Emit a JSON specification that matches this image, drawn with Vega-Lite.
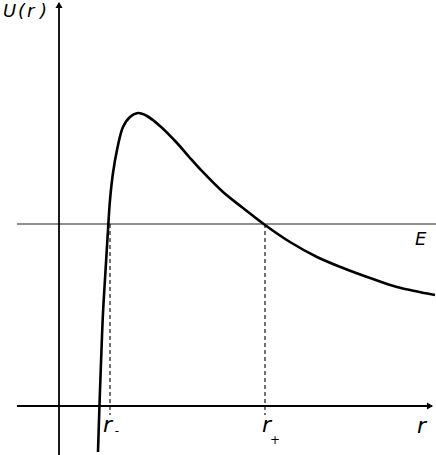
{
  "$schema": "https://vega.github.io/schema/vega-lite/v6.json",
  "width": 436,
  "height": 455,
  "padding": 0,
  "autosize": {"type": "none"},
  "background": "white",
  "config": {"view": {"stroke": null}},
  "datasets": {
    "curve": [
      {"r": 98, "U": 3}, {"r": 99, "U": 35}, {"r": 100, "U": 65}, {"r": 101, "U": 92},
      {"r": 103, "U": 142}, {"r": 106, "U": 192}, {"r": 108, "U": 225}, {"r": 110, "U": 255},
      {"r": 113, "U": 282}, {"r": 117, "U": 305}, {"r": 123, "U": 328}, {"r": 130, "U": 338},
      {"r": 138, "U": 342}, {"r": 147, "U": 339}, {"r": 160, "U": 329}, {"r": 177, "U": 312},
      {"r": 190, "U": 297}, {"r": 200, "U": 286}, {"r": 223, "U": 263}, {"r": 243, "U": 247},
      {"r": 265, "U": 230}, {"r": 290, "U": 213}, {"r": 317, "U": 198}, {"r": 343, "U": 187},
      {"r": 370, "U": 177}, {"r": 397, "U": 168}, {"r": 435, "U": 160}
    ],
    "axes": [
      {"x": 59, "y": 0, "x2": 59, "y2": 452},
      {"x": 17, "y": 49, "x2": 432, "y2": 49}
    ],
    "energy": [{"x": 17, "y": 231, "x2": 436, "y2": 231}],
    "turning": [
      {"x": 110, "y": 231, "x2": 110, "y2": 40},
      {"x": 265, "y": 231, "x2": 265, "y2": 40}
    ],
    "arrowUp": [{"x": 59, "y": 450}],
    "arrowRight": [{"x": 430, "y": 49}],
    "bigLabels": [
      {"t": "r", "x": 103, "y": 23},
      {"t": "r", "x": 262, "y": 23},
      {"t": "r", "x": 417, "y": 22}
    ],
    "subs": [
      {"t": "-", "x": 117, "y": 20},
      {"t": "+", "x": 275, "y": 11}
    ],
    "ulabel": [
      {"t": "U", "x": 3, "y": 438},
      {"t": "(", "x": 18, "y": 438},
      {"t": "r", "x": 27, "y": 438},
      {"t": ")", "x": 40, "y": 438}
    ],
    "elabel": [{"t": "E", "x": 415, "y": 210}]
  },
  "layer": [
    {
      "data": {"name": "energy"},
      "mark": {"type": "rule", "color": "#6a6a6a", "strokeWidth": 1.6},
      "encoding": {
        "x": {"field": "x", "type": "quantitative", "scale": {"domain": [0, 436], "nice": false, "zero": false}, "axis": null},
        "y": {"field": "y", "type": "quantitative", "scale": {"domain": [0, 455], "nice": false, "zero": false}, "axis": null},
        "x2": {"field": "x2"},
        "y2": {"field": "y2"}
      }
    },
    {
      "data": {"name": "turning"},
      "mark": {"type": "rule", "color": "#000000", "strokeWidth": 1.1, "strokeDash": [4, 3]},
      "encoding": {
        "x": {"field": "x", "type": "quantitative"},
        "y": {"field": "y", "type": "quantitative"},
        "x2": {"field": "x2"},
        "y2": {"field": "y2"}
      }
    },
    {
      "data": {"name": "axes"},
      "mark": {"type": "rule", "color": "#000000", "strokeWidth": 1.8},
      "encoding": {
        "x": {"field": "x", "type": "quantitative"},
        "y": {"field": "y", "type": "quantitative"},
        "x2": {"field": "x2"},
        "y2": {"field": "y2"}
      }
    },
    {
      "data": {"name": "arrowUp"},
      "mark": {"type": "point", "shape": "triangle-up", "filled": true, "color": "#000000", "size": 50, "opacity": 1},
      "encoding": {
        "x": {"field": "x", "type": "quantitative"},
        "y": {"field": "y", "type": "quantitative"}
      }
    },
    {
      "data": {"name": "arrowRight"},
      "mark": {"type": "point", "shape": "triangle-right", "filled": true, "color": "#000000", "size": 50, "opacity": 1},
      "encoding": {
        "x": {"field": "x", "type": "quantitative"},
        "y": {"field": "y", "type": "quantitative"}
      }
    },
    {
      "data": {"name": "curve"},
      "mark": {"type": "line", "color": "#000000", "strokeWidth": 2.6, "interpolate": "catmull-rom"},
      "encoding": {
        "x": {"field": "r", "type": "quantitative"},
        "y": {"field": "U", "type": "quantitative"},
        "order": {"field": "r", "type": "quantitative"}
      }
    },
    {
      "data": {"name": "bigLabels"},
      "mark": {"type": "text", "font": "DejaVu Sans", "fontStyle": "italic", "fontSize": 22, "align": "left", "baseline": "alphabetic", "color": "#000000"},
      "encoding": {
        "x": {"field": "x", "type": "quantitative"},
        "y": {"field": "y", "type": "quantitative"},
        "text": {"field": "t"}
      }
    },
    {
      "data": {"name": "subs"},
      "mark": {"type": "text", "font": "DejaVu Sans", "fontSize": 12, "align": "center", "baseline": "alphabetic", "color": "#000000"},
      "encoding": {
        "x": {"field": "x", "type": "quantitative"},
        "y": {"field": "y", "type": "quantitative"},
        "text": {"field": "t"}
      }
    },
    {
      "data": {"name": "ulabel"},
      "mark": {"type": "text", "font": "DejaVu Sans", "fontStyle": "italic", "fontSize": 18, "align": "left", "baseline": "alphabetic", "color": "#000000"},
      "encoding": {
        "x": {"field": "x", "type": "quantitative"},
        "y": {"field": "y", "type": "quantitative"},
        "text": {"field": "t"}
      }
    },
    {
      "data": {"name": "elabel"},
      "mark": {"type": "text", "font": "DejaVu Sans", "fontStyle": "italic", "fontSize": 18, "align": "left", "baseline": "alphabetic", "color": "#000000"},
      "encoding": {
        "x": {"field": "x", "type": "quantitative"},
        "y": {"field": "y", "type": "quantitative"},
        "text": {"field": "t"}
      }
    }
  ]
}
